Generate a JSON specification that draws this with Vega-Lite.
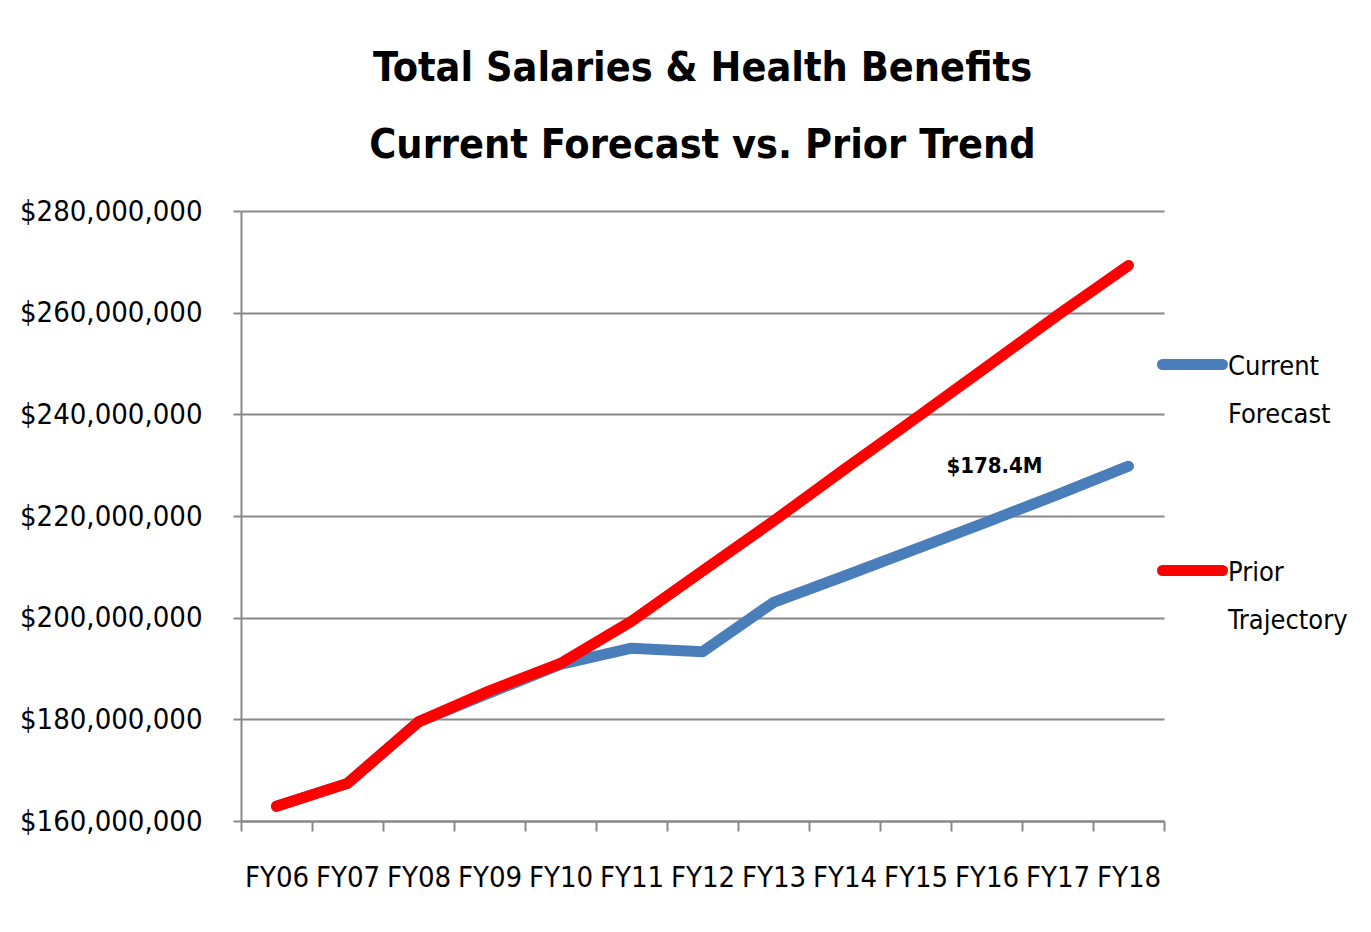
{
  "$schema": "https://vega.github.io/schema/vega-lite/v6.json",
  "width": 923,
  "height": 610,
  "autosize": {"type": "none"},
  "padding": {"left": 241, "top": 211, "right": 207, "bottom": 111},
  "background": "white",
  "title": {
    "text": ["Total Salaries & Health Benefits", "Current Forecast vs. Prior Trend"],
    "font": "DejaVu Sans Condensed, Roboto",
    "fontSize": 41,
    "fontWeight": "bold",
    "color": "black",
    "anchor": "middle",
    "lineHeight": 77,
    "offset": 30
  },
  "datasets": {
    "series": [
      {"fy": "FY06", "series": "Current Forecast", "value": 162900000},
      {"fy": "FY07", "series": "Current Forecast", "value": 167400000},
      {"fy": "FY08", "series": "Current Forecast", "value": 179500000},
      {"fy": "FY09", "series": "Current Forecast", "value": 185200000},
      {"fy": "FY10", "series": "Current Forecast", "value": 190800000},
      {"fy": "FY11", "series": "Current Forecast", "value": 194000000},
      {"fy": "FY12", "series": "Current Forecast", "value": 193300000},
      {"fy": "FY13", "series": "Current Forecast", "value": 203000000},
      {"fy": "FY14", "series": "Current Forecast", "value": 208200000},
      {"fy": "FY15", "series": "Current Forecast", "value": 213500000},
      {"fy": "FY16", "series": "Current Forecast", "value": 218800000},
      {"fy": "FY17", "series": "Current Forecast", "value": 224200000},
      {"fy": "FY18", "series": "Current Forecast", "value": 229800000},
      {"fy": "FY06", "series": "Prior Trajectory", "value": 162900000},
      {"fy": "FY07", "series": "Prior Trajectory", "value": 167400000},
      {"fy": "FY08", "series": "Prior Trajectory", "value": 179500000},
      {"fy": "FY09", "series": "Prior Trajectory", "value": 185600000},
      {"fy": "FY10", "series": "Prior Trajectory", "value": 191000000},
      {"fy": "FY11", "series": "Prior Trajectory", "value": 199300000},
      {"fy": "FY12", "series": "Prior Trajectory", "value": 209200000},
      {"fy": "FY13", "series": "Prior Trajectory", "value": 219000000},
      {"fy": "FY14", "series": "Prior Trajectory", "value": 229200000},
      {"fy": "FY15", "series": "Prior Trajectory", "value": 239200000},
      {"fy": "FY16", "series": "Prior Trajectory", "value": 249300000},
      {"fy": "FY17", "series": "Prior Trajectory", "value": 259500000},
      {"fy": "FY18", "series": "Prior Trajectory", "value": 269300000}
    ],
    "notes": [
      {"fy": "FY16", "value": 229800000, "label": "$178.4M"}
    ]
  },
  "encoding": {
    "x": {
      "field": "fy",
      "type": "ordinal",
      "sort": null,
      "bandPosition": 0.5,
      "scale": {"type": "band", "paddingInner": 0, "paddingOuter": 0},
      "axis": {
        "title": null,
        "labelAngle": 0,
        "tickBand": "extent",
        "domainColor": "#888888",
        "domainWidth": 2,
        "tickColor": "#888888",
        "tickWidth": 2,
        "tickSize": 10,
        "labelPadding": 32,
        "labelFont": "DejaVu Sans Condensed, Roboto",
        "labelFontSize": 29,
        "labelColor": "black",
        "labelLimit": 0,
        "labelOverlap": false,
        "grid": false
      }
    },
    "y": {
      "field": "value",
      "type": "quantitative",
      "scale": {"domain": [160000000, 280000000], "nice": false, "zero": false},
      "axis": {
        "title": null,
        "values": [160000000, 180000000, 200000000, 220000000, 240000000, 260000000, 280000000],
        "format": "$,.0f",
        "grid": true,
        "gridColor": "#888888",
        "gridWidth": 2,
        "domainColor": "#888888",
        "domainWidth": 2,
        "tickColor": "#888888",
        "tickWidth": 2,
        "tickSize": 8,
        "labelPadding": 31,
        "labelFont": "DejaVu Sans Condensed, Roboto",
        "labelFontSize": 29,
        "labelColor": "black",
        "labelLimit": 0
      }
    }
  },
  "layer": [
    {
      "data": {"name": "series"},
      "mark": {"type": "line", "strokeWidth": 11, "strokeCap": "round", "strokeJoin": "round"},
      "encoding": {
        "color": {
          "field": "series",
          "type": "nominal",
          "scale": {"domain": ["Current Forecast", "Prior Trajectory"], "range": ["#4A7EBB", "#FF0000"]},
          "legend": {
            "orient": "none",
            "legendX": 916,
            "legendY": 118,
            "title": null,
            "padding": 0,
            "symbolType": "stroke",
            "symbolSize": 3600,
            "symbolStrokeWidth": 11,
            "labelFont": "DejaVu Sans Condensed, Roboto",
            "labelFontSize": 27,
            "labelColor": "black",
            "labelBaseline": "top",
            "labelOffset": 0,
            "labelLimit": 0,
            "labelExpr": "split(datum.label, ' ')",
            "rowPadding": 107,
            "encode": {
              "labels": {"update": {"dy": {"value": -11}}},
              "symbols": {"update": {"strokeCap": {"value": "round"}}}
            }
          }
        }
      }
    },
    {
      "data": {"name": "notes"},
      "mark": {"type": "text", "font": "DejaVu Sans Condensed, Roboto", "fontSize": 22, "fontWeight": "bold", "color": "black", "dx": 8, "align": "center", "baseline": "middle"},
      "encoding": {
        "text": {"field": "label", "type": "nominal"}
      }
    }
  ],
  "config": {
    "view": {"stroke": null},
    "style": {"guide-label": {"lineHeight": 48}}
  }
}
